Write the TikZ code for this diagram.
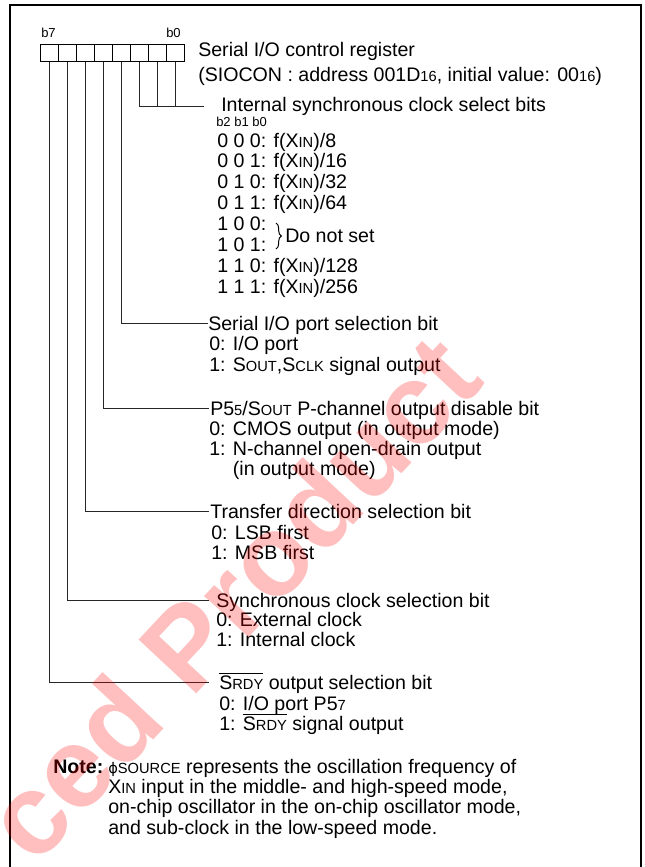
\documentclass[tikz,border=0pt]{standalone}
\usepackage{fontspec}
\setmainfont{Liberation Sans}
\newfontfamily\dejavu{DejaVu Sans}
\usetikzlibrary{decorations.pathreplacing}
\newcommand{\sm}[1]{{\fontsize{11}{11}\selectfont #1}}
\newcommand{\ovl}[1]{\ensuremath{\overline{\mbox{#1}}}}
\begin{document}
\begin{tikzpicture}[x=0.75pt,y=-0.75pt,
  txt/.style={inner sep=0pt, anchor=base west, font=\fontsize{14.7}{16}\selectfont},
  small/.style={inner sep=0pt, anchor=base west, font=\fontsize{9.75}{10}\selectfont},
  bitbox/.style={draw, line width=0.75pt, minimum width=13.5pt, minimum height=12.75pt, inner sep=0pt},
  conn/.style={line width=0.75pt, draw=black!85},
  frame/.style={line width=1.5pt},
  wmark/.style={rotate=47, opacity=0.25, text=red, inner sep=0pt, font=\bfseries\fontsize{86}{86}\selectfont}]
\useasboundingbox (0,0) rectangle (645,867);
\clip (0,0) rectangle (645,867);
\draw[frame] (10,900) -- (10,5) -- (641,5) -- (641,900);
% register bits
\foreach \i in {0,...,7} \node[bitbox] (b\i) at ({175-18*\i},53.5) {};
\node[small] (lb7) at (41,38) {b7};
\node[small] (lb0) at (166,38) {b0};
\node[txt] (title1) at (198,57) {Serial I/O control register};
\node[txt] (title2) at (198,81) {(SIOCON : address 001D\sm{16}, initial value: 00\sm{16})};
% bits 2-0
\coordinate (e02) at (204,106);
\node[txt] (isc) at (221,112) {Internal synchronous clock select bits};
\node[small] (hdr) at (216,127) {b2 b1 b0};
\node[txt] (c0) at (217,147.0) {0 0 0: f(X\sm{IN})/8};
\node[txt] (c1) at (217,167.9) {0 0 1: f(X\sm{IN})/16};
\node[txt] (c2) at (217,188.8) {0 1 0: f(X\sm{IN})/32};
\node[txt] (c3) at (217,209.7) {0 1 1: f(X\sm{IN})/64};
\node[txt] (c4) at (217,230.6) {1 0 0:};
\node[txt] (c5) at (217,251.5) {1 0 1:};
\node[txt] (c6) at (217,272.4) {1 1 0: f(X\sm{IN})/128};
\node[txt] (c7) at (217,293.3) {1 1 1: f(X\sm{IN})/256};
\draw[line width=0.75pt, decorate, decoration={brace, amplitude=4pt}] (276,223) -- (276,249);
\node[txt] (dns) at (285,242) {Do not set};
\draw[conn] (b2.south) |- (e02);
\draw[conn] (b1.south) -- (b1.south |- e02);
\draw[conn] (b0.south) -- (b0.south |- e02);
% bit 3
\coordinate (e3) at (208,323);
\draw[conn] (b3.south) |- (e3);
\node[txt] (s1) at (208,330) {Serial I/O port selection bit};
\node[txt] (s2) at (209,350.5) {0: I/O port};
\node[txt] (s3) at (209,371) {1: S\sm{OUT},S\sm{CLK} signal output};
% bit 4
\coordinate (e4) at (209,408);
\draw[conn] (b4.south) |- (e4);
\node[txt] (p1) at (210,415) {P5\sm{5}/S\sm{OUT} P-channel output disable bit};
\node[txt] (p2) at (209,435) {0: CMOS output (in output mode)};
\node[txt] (p3) at (209,455) {1: N-channel open-drain output};
\node[txt] (p4) at (209,475) {\phantom{1: }(in output mode)};
% bit 5
\coordinate (e5) at (209,511);
\draw[conn] (b5.south) |- (e5);
\node[txt] (t1) at (210,518) {Transfer direction selection bit};
\node[txt] (t2) at (211,539) {0: LSB first};
\node[txt] (t3) at (211,559.5) {1: MSB first};
% bit 6
\coordinate (e6) at (209,600);
\draw[conn] (b6.south) |- (e6);
\node[txt] (y1) at (216,607) {Synchronous clock selection bit};
\node[txt] (y2) at (216,626.5) {0: External clock};
\node[txt] (y3) at (216,646) {1: Internal clock};
% bit 7
\coordinate (e7) at (209,682);
\draw[conn] (b7.south) |- (e7);
\node[txt] (r1) at (219,689) {\ovl{S\sm{RDY}} output selection bit};
\node[txt] (r2) at (219,710) {0: I/O port P5\sm{7}};
\node[txt] (r3) at (219,730) {1: \ovl{S\sm{RDY}} signal output};
% note
\node[txt, font=\bfseries\fontsize{14.7}{16}\selectfont] (note) at (53,773) {Note:};
\node[txt] (n1) at (108,773) {{\dejavu\sm{ϕ}}\sm{SOURCE} represents the oscillation frequency of};
\node[txt] (n2) at (108,793.3) {X\sm{IN} input in the middle- and high-speed mode,};
\node[txt] (n3) at (108,813.6) {on-chip oscillator in the on-chip oscillator mode,};
\node[txt] (n4) at (108,834) {and sub-clock in the low-speed mode.};
% watermark
\node[wmark] (wm) at (231,597) {ced Product};
\end{tikzpicture}
\end{document}
